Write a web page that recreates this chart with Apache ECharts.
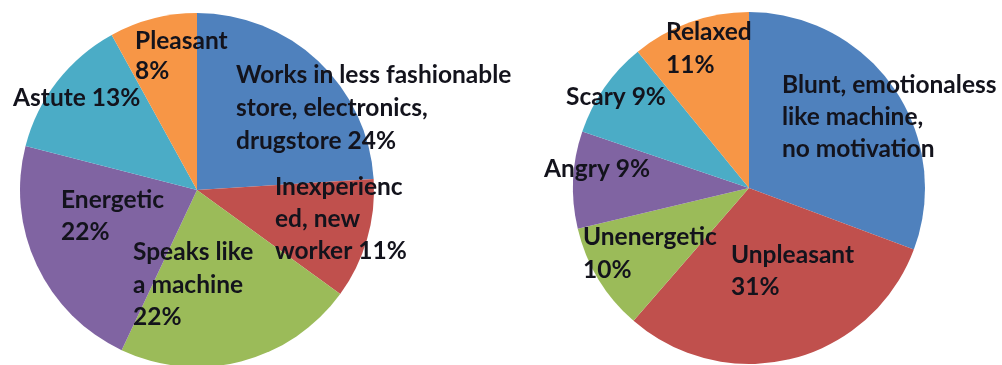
<!DOCTYPE html>
<html>
<head>
<meta charset="utf-8">
<script src="https://cdn.jsdelivr.net/npm/echarts@6/dist/echarts.min.js"></script>
<style>
  html, body { margin: 0; padding: 0; background: #ffffff; }
  #chart { width: 1002px; height: 365px; }
</style>
</head>
<body>
<div id="chart"></div>
<script>
// Left pie: how the clerk is described
const leftCategories = [
  'Works in less fashionable\nstore, electronics,\ndrugstore',
  'Inexperienc\ned, new\nworker',
  'Speaks like\na machine',
  'Energetic',
  'Astute',
  'Pleasant'
];
const leftValues = [24, 11, 22, 22, 13, 8];
// true: the percentage goes on its own line
const leftValueOnNewLine = [false, false, true, true, false, true];

// Right pie: how the voice is perceived
const rightCategories = [
  'Blunt, emotionaless\nlike machine,\nno motivation',
  'Unpleasant',
  'Unenergetic',
  'Angry',
  'Scary',
  'Relaxed'
];
const rightValues = [31, 31, 10, 9, 9, 11];
const rightValueOnNewLine = [false, true, true, false, false, true];
const rightShowValue = [false, true, true, true, true, true];

// Office-style slice colours, same order in both pies
const sliceColors = ['#4F81BD', '#C0504D', '#9BBB59', '#8064A2', '#4BACC6', '#F79646'];

// Pie geometry (pixels)
const leftCenter = [197, 190];
const rightCenter = [749, 188];
const leftRadius = 177;
const rightRadius = 176;

// Top-left corner of each label block, relative to its pie centre
const leftLabelOffsets = [[39, -131], [78, -19], [-64, 46], [-136, -6], [-184, -108], [-62, -164]];
const rightLabelOffsets = [[33, -119], [-18, 51], [-166, 33], [-205, -35], [-183, -107], [-83, -172]];
const leftLineHeights = [33, 32, 32.5, 32, 32, 30];
const rightLineHeights = [32, 32, 33, 32, 32, 33];

function buildData(names, values, newLine, showValue, lineHeights) {
  return names.map((n, i) => ({
    name: n,
    value: values[i],
    itemStyle: { color: sliceColors[i] },
    label: {
      lineHeight: lineHeights[i],
      formatter: (p) => {
        if (showValue && !showValue[i]) return p.name;
        return p.name + (newLine[i] ? '\n' : ' ') + p.value + '%';
      }
    }
  }));
}

function labelPlacer(center, offsets) {
  return (params) => ({
    x: center[0] + offsets[params.dataIndex][0],
    y: center[1] + offsets[params.dataIndex][1],
    align: 'left',
    verticalAlign: 'top'
  });
}

const labelStyle = {
  show: true,
  position: 'inside',
  color: '#13131c',
  fontFamily: 'Lato',
  fontWeight: 'bold',
  fontSize: 24.5,
  align: 'left'
};

const chart = echarts.init(document.getElementById('chart'), null, { renderer: 'canvas' });
chart.setOption({
  animation: false,
  backgroundColor: '#ffffff',
  series: [
    {
      type: 'pie',
      center: leftCenter,
      radius: [0, leftRadius],
      startAngle: 90,
      clockwise: true,
      avoidLabelOverlap: false,
      silent: true,
      itemStyle: { borderWidth: 0 },
      label: labelStyle,
      labelLine: { show: false },
      labelLayout: labelPlacer(leftCenter, leftLabelOffsets),
      data: buildData(leftCategories, leftValues, leftValueOnNewLine, null, leftLineHeights)
    },
    {
      type: 'pie',
      center: rightCenter,
      radius: [0, rightRadius],
      startAngle: 90,
      clockwise: true,
      avoidLabelOverlap: false,
      silent: true,
      itemStyle: { borderWidth: 0 },
      label: labelStyle,
      labelLine: { show: false },
      labelLayout: labelPlacer(rightCenter, rightLabelOffsets),
      data: buildData(rightCategories, rightValues, rightValueOnNewLine, rightShowValue, rightLineHeights)
    }
  ]
});
</script>
</body>
</html>
